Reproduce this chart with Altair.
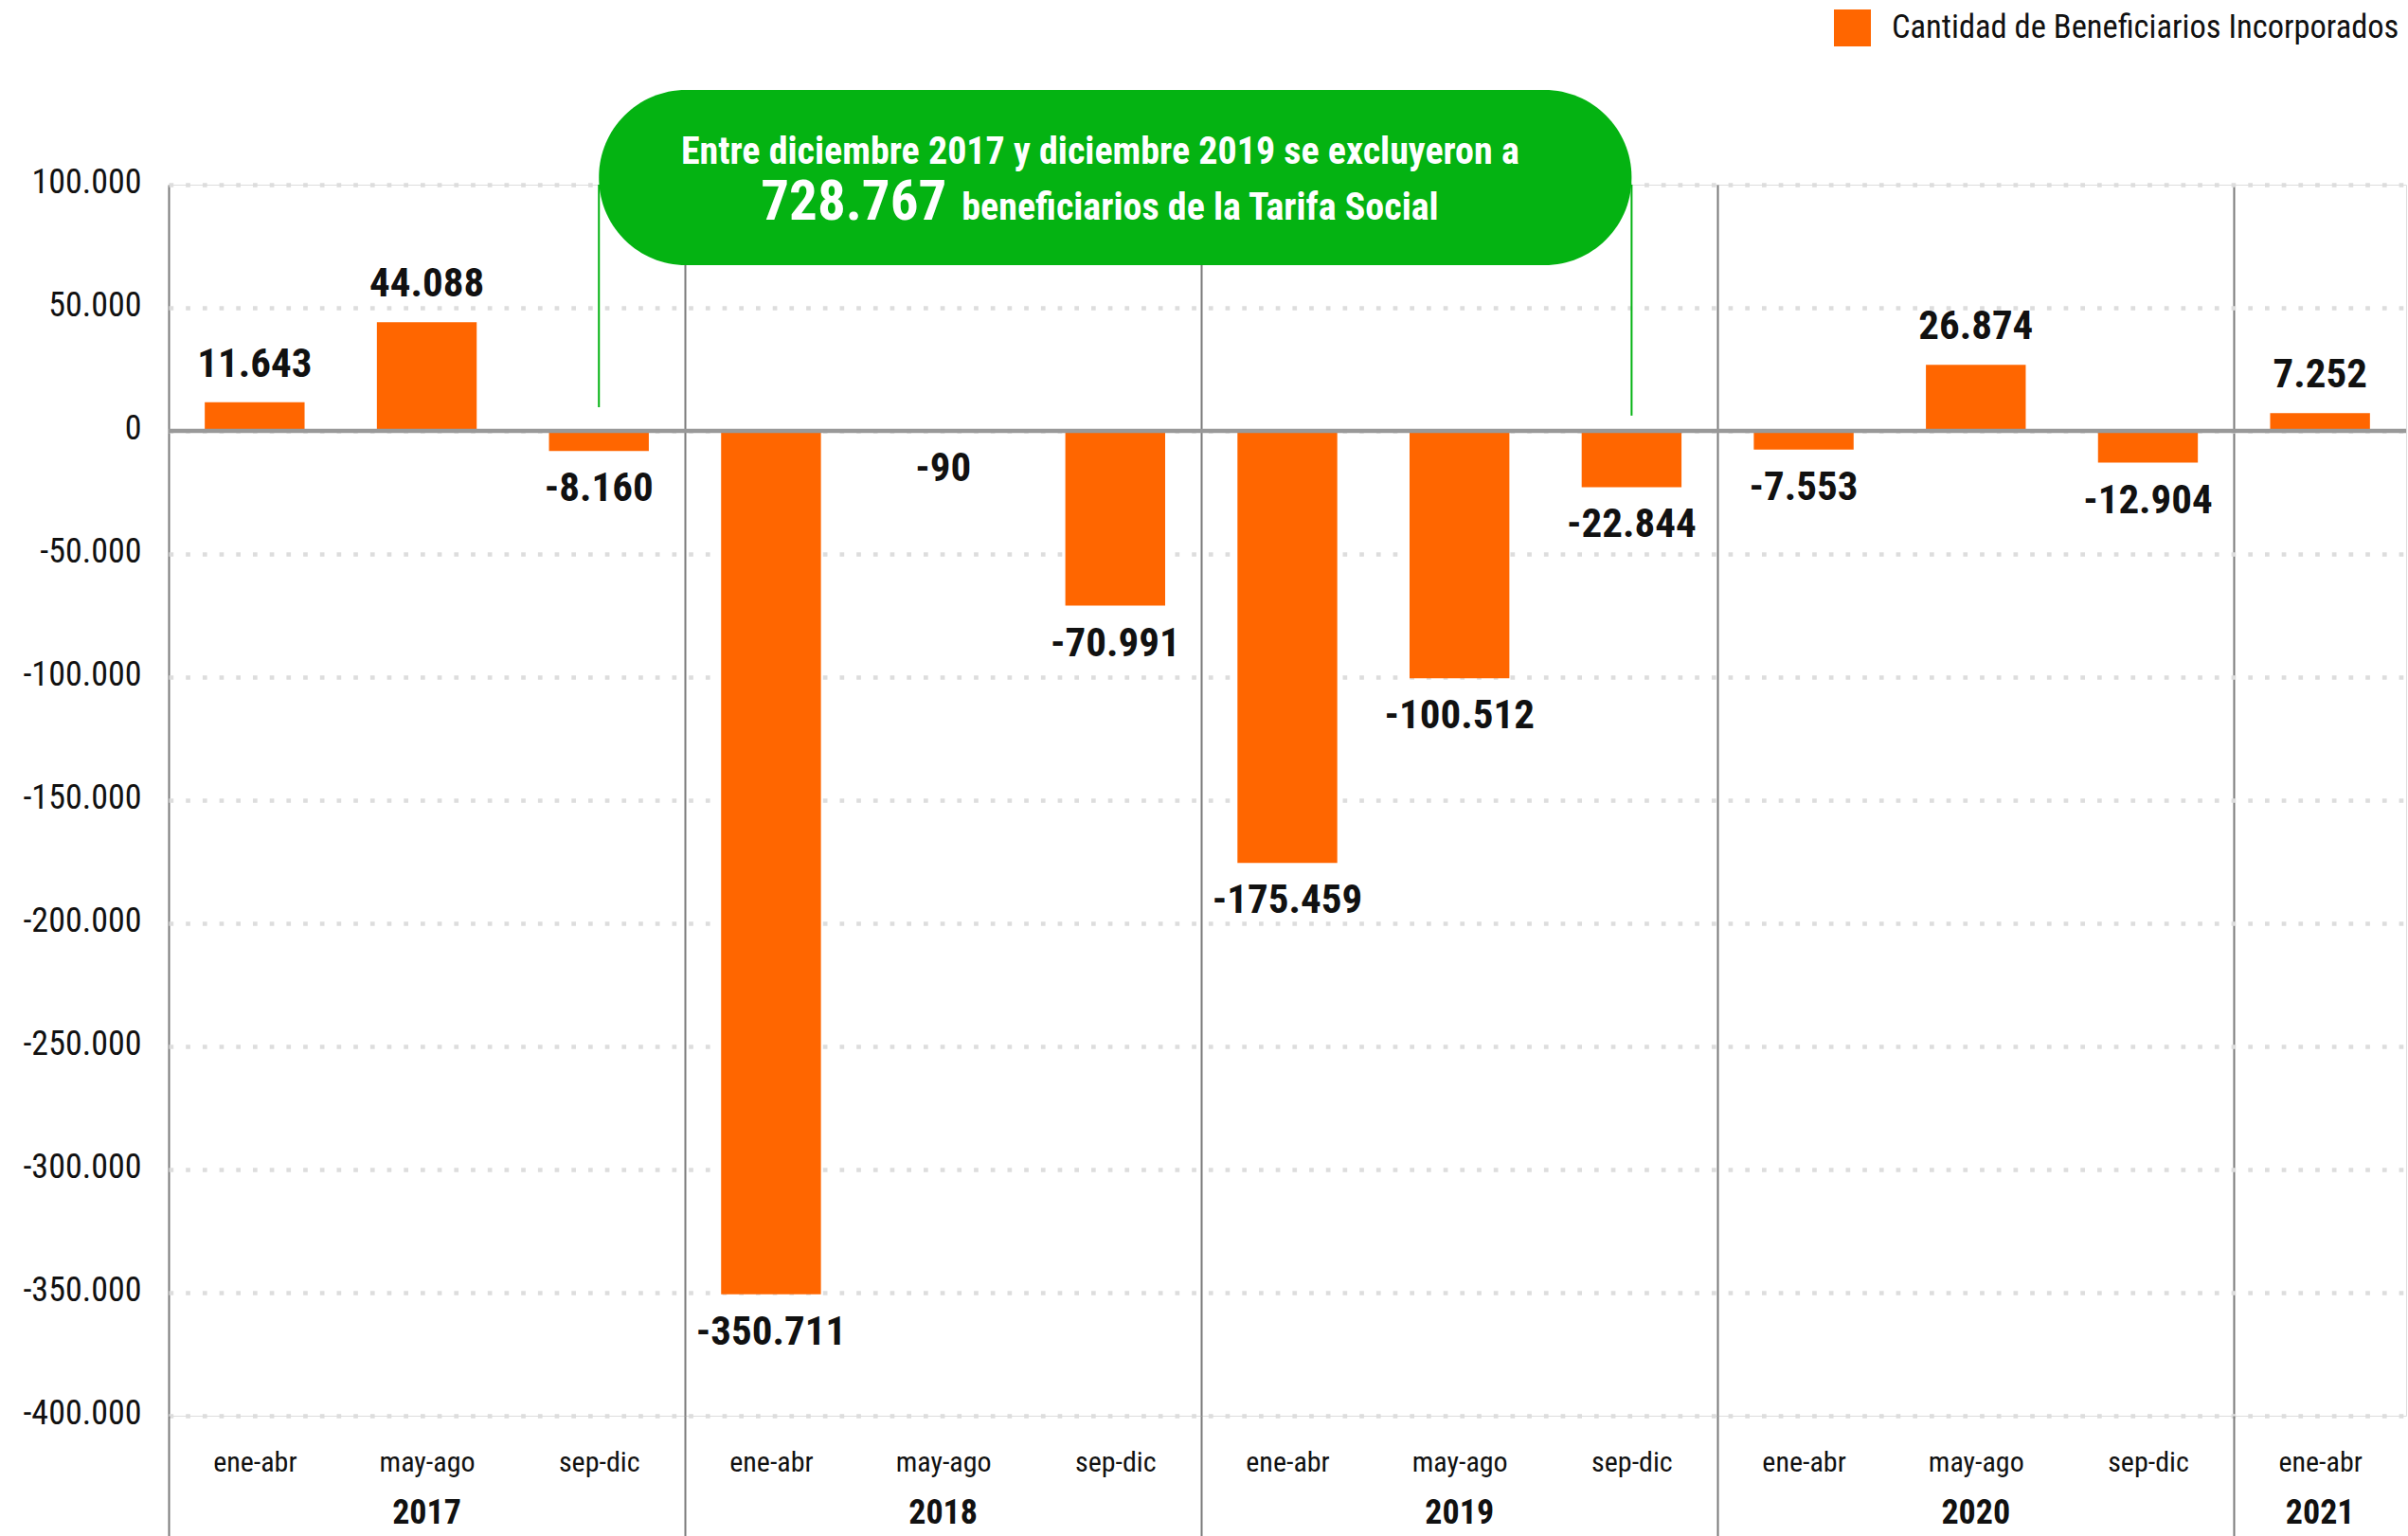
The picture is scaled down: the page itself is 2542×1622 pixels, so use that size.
import json
import altair as alt
import pandas as pd

# ---------------- data ----------------
years = ["2017", "2017", "2017", "2018", "2018", "2018", "2019", "2019", "2019",
         "2020", "2020", "2020", "2021"]
periods = ["ene-abr", "may-ago", "sep-dic", "ene-abr", "may-ago", "sep-dic",
           "ene-abr", "may-ago", "sep-dic", "ene-abr", "may-ago", "sep-dic", "ene-abr"]
values = [11643, 44088, -8160, -350711, -90, -70991, -175459, -100512, -22844,
          -7553, 26874, -12904, 7252]
serie = "Cantidad de Beneficiarios Incorporados"
y_ticks = [100000, 50000, 0, -50000, -100000, -150000, -200000, -250000,
           -300000, -350000, -400000]
callout_line1 = "Entre diciembre 2017 y diciembre 2019 se excluyeron a"
callout_number = "728.767"
callout_line2 = "beneficiarios de la Tarifa Social"
callout_from = "2017|sep-dic"
callout_to = "2019|sep-dic"
callout_center = "2018|sep-dic"
callout_top = 138500
callout_bottom = 67300
callout_text1_y = 108400
callout_text2_y = 85800
connector_ends = [9600, 6200]
year_label_keys = ["2017|may-ago", "2018|may-ago", "2019|may-ago", "2020|may-ago", "2021|ene-abr"]
separator_after = ["2017|sep-dic", "2018|sep-dic", "2019|sep-dic", "2020|sep-dic"]

keys = [f"{y}|{p}" for y, p in zip(years, periods)]
labels = [f"{v:,}".replace(",", ".") for v in values]

df = pd.DataFrame({"key": keys, "value": values, "serie": serie, "label": labels})
df_pos = df[df["value"] >= 0]
df_neg = df[df["value"] < 0]

# ---------------- style ----------------
FONT = "Liberation Sans Narrow, Roboto Condensed, Arial Narrow, sans-serif"
ORANGE = "#FF6600"
GREEN = "#04B312"
SEP = "#7a7a7a"
W, H = 2362, 1300

xscale = alt.Scale(domain=keys, paddingInner=0, paddingOuter=0)
yscale = alt.Scale(domain=[-400000, 100000], nice=False, zero=False)

sep_test = "datum.extra || indexof(" + json.dumps(separator_after) + ", datum.value) >= 0"

axis_month = alt.Axis(
    title=None, orient="bottom", tickBand="extent", domain=False,
    grid=True, gridColor=SEP, gridWidth=2, gridDash=[],
    gridOpacity={"condition": {"test": sep_test, "value": 1}, "value": 0},
    ticks=True, tickSize=127, tickColor=SEP, tickWidth=2,
    tickOpacity={"condition": {"test": sep_test, "value": 1}, "value": 0},
    labelExpr="split(datum.value, '|')[1]", labelAngle=0, labelFont=FONT,
    labelFontSize=30, labelColor="#111111", labelBaseline="alphabetic",
    labelPadding=-69, labelOverlap=False,
)
axis_year = alt.Axis(
    title=None, orient="bottom", ticks=False, domain=False, grid=False,
    labelExpr="indexof(" + json.dumps(year_label_keys) + ", datum.value) >= 0 ? split(datum.value, '|')[0] : ''",
    labelAngle=0, labelFont=FONT, labelFontSize=36, labelFontWeight="bold",
    labelColor="#111111", labelBaseline="alphabetic", labelPadding=113,
    labelOverlap=False,
)
yaxis = alt.Axis(
    title=None, values=y_ticks,
    labelExpr="replace(replace(format(datum.value, ','), ',', '.'), '\u2212', '-')",
    grid=True, gridDash=[4.7, 13], gridWidth=4.7, gridColor="#dddddd",
    ticks=False, domain=False, labelPadding=29, labelFont=FONT, labelFontSize=36,
    labelColor="#111111", labelBaseline="alphabetic", labelOffset=8,
)

Y = lambda f: alt.Y(f, scale=yscale, axis=yaxis)

bars = alt.Chart(df).mark_bar(width={"band": 0.58}).encode(
    x=alt.X("key:N", scale=xscale, axis=axis_month, sort=keys),
    y=Y("value:Q"),
    color=alt.Color("serie:N", scale=alt.Scale(range=[ORANGE]),
                    legend=alt.Legend(orient="none", legendX=1758, legendY=-185,
                                      title=None, symbolType="square", symbolSize=1521,
                                      symbolStrokeWidth=0, labelFont=FONT,
                                      labelFontSize=34.5, labelColor="#111111",
                                      labelOffset=22, labelLimit=0, padding=0)),
)

zero = alt.Chart(pd.DataFrame({"value": [0]})).mark_rule(
    color="#999999", strokeWidth=4.5).encode(y=Y("value:Q"))

conn = alt.Chart(pd.DataFrame({"key": [callout_from, callout_to],
                               "value": [100000, 100000],
                               "end": connector_ends})).mark_rule(
    color=GREEN, strokeWidth=2).encode(
    x=alt.X("key:N", scale=xscale, axis=None),
    y=Y("value:Q"), y2="end:Q")

pill = alt.Chart(pd.DataFrame({"a": [callout_from], "b": [callout_to],
                               "value": [callout_top], "bottom": [callout_bottom]})).mark_rect(
    color=GREEN, cornerRadius=92).encode(
    x=alt.X("a:N", scale=xscale, axis=None, bandPosition=0.5),
    x2=alt.X2("b:N", bandPosition=0.5),
    y=Y("value:Q"), y2="bottom:Q")

txt_base = dict(font=FONT, fontWeight="bold", color="white")
t1 = alt.Chart(pd.DataFrame({"key": [callout_center], "value": [callout_text1_y],
                             "t": [callout_line1]})).mark_text(
    align="center", baseline="alphabetic", fontSize=40, dx=-16, **txt_base).encode(
    x=alt.X("key:N", scale=xscale, axis=None), y=Y("value:Q"), text="t:N")
t2a = alt.Chart(pd.DataFrame({"key": [callout_center], "value": [callout_text2_y],
                              "t": [callout_number]})).mark_text(
    align="right", baseline="alphabetic", fontSize=59, dx=-178, **txt_base).encode(
    x=alt.X("key:N", scale=xscale, axis=None), y=Y("value:Q"), text="t:N")
t2b = alt.Chart(pd.DataFrame({"key": [callout_center], "value": [callout_text2_y],
                              "t": [callout_line2]})).mark_text(
    align="left", baseline="alphabetic", fontSize=40, dx=-162, **txt_base).encode(
    x=alt.X("key:N", scale=xscale, axis=None), y=Y("value:Q"), text="t:N")

lab_pos = alt.Chart(df_pos).mark_text(
    align="center", baseline="alphabetic", dy=-27, font=FONT, fontSize=43,
    fontWeight="bold", color="#111111").encode(
    x=alt.X("key:N", scale=xscale, axis=axis_year), y=Y("value:Q"), text="label:N")
lab_neg = alt.Chart(df_neg).mark_text(
    align="center", baseline="alphabetic", dy=53, font=FONT, fontSize=43,
    fontWeight="bold", color="#111111").encode(
    x=alt.X("key:N", scale=xscale, axis=None), y=Y("value:Q"), text="label:N")

chart = alt.layer(bars, zero, conn, pill, t1, t2a, t2b, lab_pos, lab_neg).resolve_axis(
    x="independent"
).properties(
    width=W, height=H,
    autosize=alt.AutoSizeParams(type="none"),
    padding={"left": 178, "top": 195, "right": 2, "bottom": 127},
).configure_view(stroke=None).configure(background="white")

chart.save("out.html", embed_options={"renderer": "svg", "actions": False})
